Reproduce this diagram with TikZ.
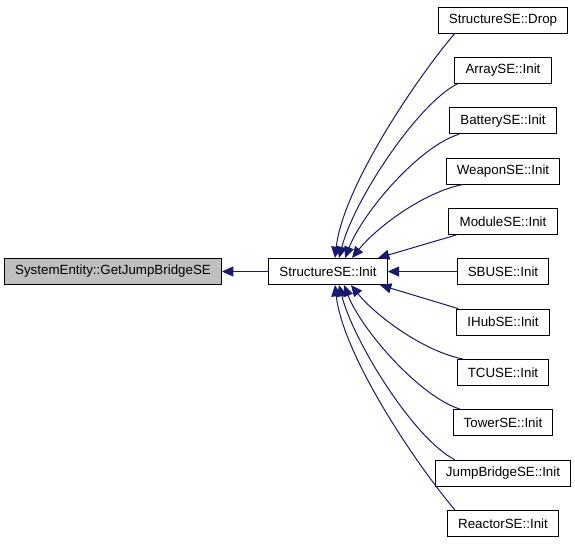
\documentclass[tikz,border=0pt]{standalone}
\usepackage{fontspec}
\setmainfont{Liberation Sans}
\usetikzlibrary{arrows.meta,calc}
\definecolor{edgeblue}{HTML}{191970}
\definecolor{hl}{HTML}{BFBFBF}
\begin{document}
\begin{tikzpicture}[x=0.75pt,y=-0.75pt,
  box/.style={draw=black, line width=0.75pt, fill=white, font=\fontsize{10}{12}\selectfont,
              inner xsep=8pt, inner ysep=0pt, minimum height=19.5pt},
  edge/.style={draw=edgeblue, line width=0.75pt, -{Triangle[length=8.5pt,width=7.5pt]}}]
\useasboundingbox (0,0) rectangle (575,544);
\node[box, fill=hl] (sys) at (113,271.5) {SystemEntity::GetJumpBridgeSE};
\node[box] (init) at (328,271.5) {StructureSE::Init};
\node[box] (drop) at (503,20) {StructureSE::Drop};
\node[box] (array) at (503,70.35) {ArraySE::Init};
\node[box] (battery) at (503,120.7) {BatterySE::Init};
\node[box] (weapon) at (503,171.05) {WeaponSE::Init};
\node[box] (module) at (503,221.4) {ModuleSE::Init};
\node[box] (sbuse) at (503,271.5) {SBUSE::Init};
\node[box] (ihub) at (503,322.1) {IHubSE::Init};
\node[box] (tcuse) at (503,372.45) {TCUSE::Init};
\node[box] (tower) at (503,422.8) {TowerSE::Init};
\node[box] (jump) at (503,473.15) {JumpBridgeSE::Init};
\node[box] (reactor) at (503,523.5) {ReactorSE::Init};

\draw[edge] (init.west) -- (sys.east);
\draw[edge] (sbuse.west) -- (init.east);

\draw[edge] ($(drop.south west)+(17,0)$) .. controls +(-40,47) and +(8,-70) .. ($(init.north)+(7,0)$);
\draw[edge] ($(array.south west)+(3,0)$) .. controls +(-40,20) and +(15,-58) .. ($(init.north)+(11,0)$);
\draw[edge] ($(battery.south west)+(10,0)$) .. controls +(-40,12) and +(18,-46) .. ($(init.north)+(17,0)$);
\draw[edge] ($(weapon.south west)+(17,0)$) .. controls +(-40,8) and +(24,-30) .. ($(init.north)+(24,0)$);
\draw[edge] ($(module.south west)+(8,0)$) -- ($(init.north)+(50,0)$);

\draw[edge] ($(ihub.north west)+(2,0)$) -- ($(init.south)+(52,0)$);
\draw[edge] ($(tcuse.north west)+(6,0)$) .. controls +(-40,-8) and +(24,30) .. ($(init.south)+(23,0)$);
\draw[edge] ($(tower.north west)+(8,0)$) .. controls +(-40,-12) and +(18,46) .. ($(init.south)+(16,0)$);
\draw[edge] ($(jump.north west)+(20,0)$) .. controls +(-40,-20) and +(15,58) .. ($(init.south)+(11,0)$);
\draw[edge] ($(reactor.north west)+(8,0)$) .. controls +(-40,-47) and +(8,70) .. ($(init.south)+(7,0)$);
\end{tikzpicture}
\end{document}
